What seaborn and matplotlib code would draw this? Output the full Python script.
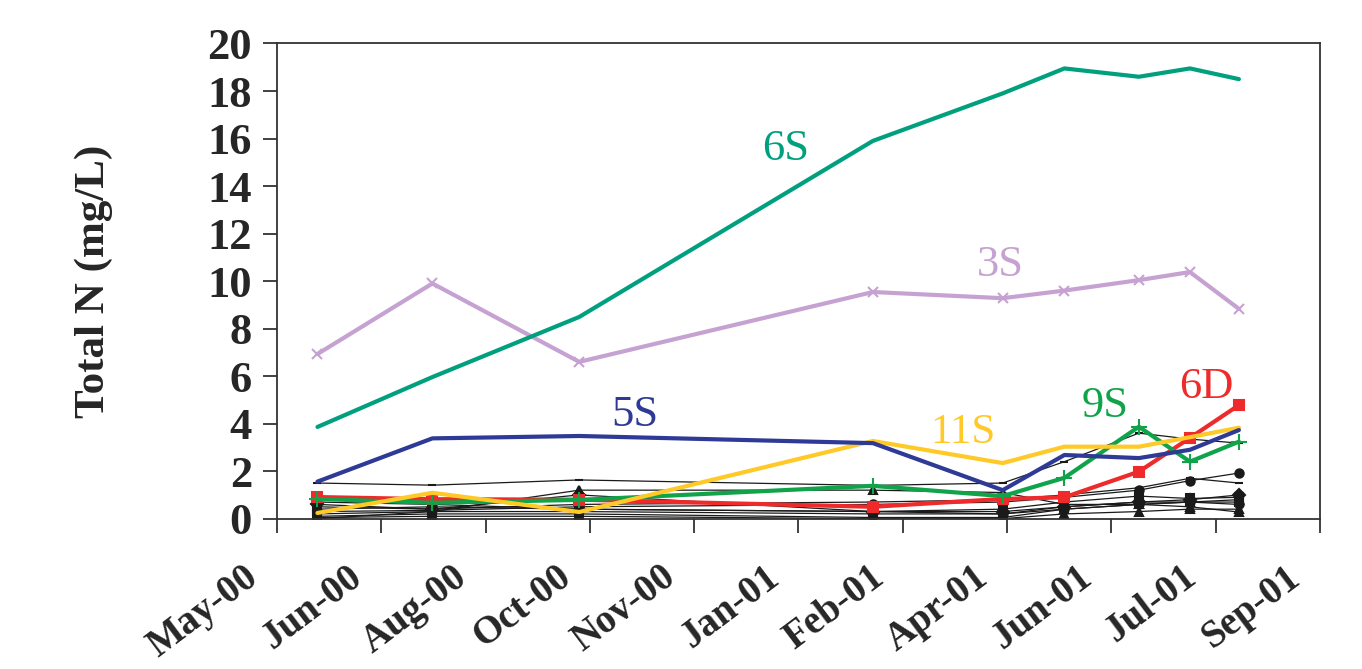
import numpy as np
import pandas as pd
import seaborn as sns
import matplotlib.pyplot as plt
import matplotlib.dates as mdates
import matplotlib.transforms as mtransforms

# sampling dates
dates = pd.to_datetime(["2000-05-28", "2000-07-21", "2000-09-28", "2001-02-13",
                        "2001-04-15", "2001-05-14", "2001-06-18", "2001-07-12",
                        "2001-08-04"])

# coloured series (mg/L)
s6S = [3.86, 5.96, 8.49, 15.9, 17.9, 18.95, 18.6, 18.95, 18.5]
s3S = [6.93, 9.9, 6.6, 9.54, 9.28, 9.6, 10.04, 10.38, 8.83]
s5S = [1.56, 3.38, 3.48, 3.18, 1.2, 2.68, 2.55, 2.9, 3.73]
s11S = [0.24, 1.09, 0.28, 3.27, 2.34, 3.03, 3.03, 3.43, 3.83]
s9S = [0.83, 0.67, 0.79, 1.38, 0.95, 1.72, 3.87, 2.4, 3.24]
s6D = [0.91, 0.82, 0.8, 0.5, 0.83, 0.9, 1.98, 3.4, 4.78]

# other wells (black thin lines)
k1 = [1.5, 1.41, 1.63, 1.4, 1.5, 2.4, 3.6, 3.35, 3.18]
k2 = [0.5, 0.4, 0.6, 0.7, 0.8, 1.0, 1.3, 1.7, 1.5]
k3 = [0.3, 0.35, 0.5, 0.6, 0.7, 0.9, 1.2, 1.6, 1.92]
k4 = [0.0, 0.3, 1.2, 1.2, 1.1, 0.6, 0.6, 0.5, 0.28]
k5 = [0.4, 0.5, 0.4, 0.3, 0.4, 0.7, 0.95, 0.85, 0.9]
k6 = [0.1, 0.2, 0.2, 0.05, 0.05, 0.4, 0.6, 0.7, 0.8]
k7 = [0.6, 0.4, 1.0, 0.3, 0.3, 0.5, 0.7, 0.8, 1.0]
k8 = [0.2, 0.3, 0.3, 0.2, 0.2, 0.5, 0.7, 0.7, 0.7]
k9 = [0.7, 0.6, 0.4, 0.3, 0.2, 0.4, 0.6, 0.7, 0.6]
k10 = [0.05, 0.1, 0.1, 0.0, 0.0, 0.2, 0.3, 0.4, 0.4]

sns.set_style("white")
plt.rcParams['font.family'] = ['Liberation Serif', 'DejaVu Serif']

fig = plt.figure(figsize=(13.62, 6.69), dpi=100)
ax = fig.add_axes([0.2034, 0.2247, 0.7656, 0.7103])

black = [(k1, "_"), (k2, "_"), (k3, "o"), (k4, "^"), (k5, "s"),
         (k6, "^"), (k7, "D"), (k8, "s"), (k9, "o"), (k10, "^")]
for vals, m in black:
    sns.lineplot(x=dates, y=vals, color="#1a1a1a", lw=0.9, marker=m,
                 markersize=6, markeredgewidth=1.5, markeredgecolor="#1a1a1a", ax=ax)

colored = [
    (s6D, "#ee2a2a", "s", "6D"),
    (s9S, "#10a34a", "+", "9S"),
    (s11S, "#ffc928", None, "11S"),
    (s5S, "#2e3a95", None, "5S"),
    (s3S, "#c6a2d2", "x", "3S"),
    (s6S, "#00a07e", None, "6S"),
]
for vals, c, m, name in colored:
    sns.lineplot(x=dates, y=vals, color=c, lw=3, marker=m, markersize=12 if m == "+" else 7,
                 markeredgewidth=1.5, markeredgecolor=c, ax=ax)

# series labels
ax.text(pd.Timestamp("2000-12-23"), 15.1, "6S", color="#00a07e", fontsize=32)
ax.text(pd.Timestamp("2001-04-03"), 10.2, "3S", color="#c6a2d2", fontsize=32)
ax.text(pd.Timestamp("2000-10-13"), 3.9, "5S", color="#2e3a95", fontsize=32)
ax.text(pd.Timestamp("2001-03-12"), 3.2, "11S", color="#ffc928", fontsize=31)
ax.text(pd.Timestamp("2001-05-22"), 4.3, "9S", color="#10a34a", fontsize=32)
ax.text(pd.Timestamp("2001-07-07"), 5.1, "6D", color="#ee2a2a", fontsize=32)

d0 = pd.Timestamp("2000-05-09")
ticks = [d0 + pd.Timedelta(days=49 * i) for i in range(11)]
ax.set_xlim(ticks[0], ticks[-1])
ax.set_xticks(ticks)
ax.xaxis.set_major_formatter(mdates.DateFormatter("%b-%y"))
ax.set_ylim(0, 20)
ax.set_yticks(range(0, 21, 2))

ax.tick_params(axis="x", labelsize=28, direction="out", length=10, width=1.3, color="#333333", pad=10)
ax.tick_params(axis="y", labelsize=32, direction="out", length=10, width=1.3, color="#333333", pad=8)
ax.tick_params(bottom=True, left=True)
shift = mtransforms.ScaledTranslation(-34 / 100, -12 / 100, fig.dpi_scale_trans)
for lab in ax.get_xticklabels():
    lab.set_rotation(37)
    lab.set_ha("right")
    lab.set_rotation_mode("anchor")
    lab.set_transform(lab.get_transform() + shift)
for lab in ax.get_xticklabels() + ax.get_yticklabels():
    lab.set_fontweight("bold")

for sp in ax.spines.values():
    sp.set_visible(True)
    sp.set_color("#333333")
    sp.set_linewidth(1.3)

ax.set_xlabel("")
ax.set_ylabel("Total N (mg/L)", fontsize=31, fontweight="bold", labelpad=68)

fig.savefig("out.png", dpi=100)
